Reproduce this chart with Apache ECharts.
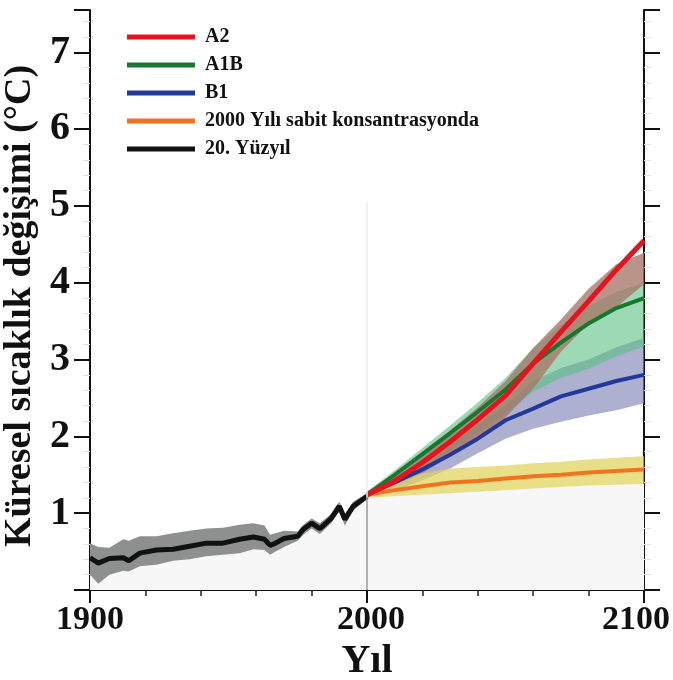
<!DOCTYPE html>
<html>
<head>
<meta charset="utf-8">
<script src="https://cdn.jsdelivr.net/npm/echarts@6/dist/echarts.min.js"></script>
<style>
html,body{margin:0;padding:0;background:#fff;}
#chart{width:673px;height:680px;}
</style>
</head>
<body>
<div id="chart"></div>
<script>
// ---- data ----
const histYears = [1900,1903,1907,1912,1914,1918,1924,1930,1936,1942,1948,1954,1959,1963,1965,1967,1970,1975,1977,1980,1983,1987,1990,1992,1995,2000];
const histMean  = [0.42,0.35,0.41,0.42,0.38,0.48,0.52,0.53,0.57,0.61,0.61,0.66,0.69,0.66,0.58,0.61,0.67,0.70,0.79,0.87,0.80,0.93,1.09,0.92,1.09,1.22];
const histLow   = [0.20,0.08,0.20,0.25,0.24,0.31,0.33,0.38,0.40,0.44,0.46,0.48,0.53,0.52,0.46,0.50,0.56,0.64,0.72,0.80,0.73,0.87,1.02,0.84,1.03,1.18];
const histHigh  = [0.61,0.56,0.55,0.66,0.64,0.70,0.70,0.74,0.77,0.80,0.81,0.85,0.87,0.84,0.72,0.74,0.77,0.76,0.85,0.93,0.87,0.99,1.15,0.99,1.15,1.26];

const projYears = [2000,2010,2020,2030,2040,2050,2060,2070,2080,2090,2100];
const a2Mean    = [1.24,1.42,1.66,1.93,2.22,2.53,2.95,3.36,3.76,4.17,4.55];
const a2Low     = [1.20,1.34,1.52,1.74,1.98,2.25,2.62,3.10,3.47,3.68,3.98];
const a2High    = [1.28,1.52,1.80,2.08,2.38,2.72,3.15,3.52,3.92,4.24,4.39];
const a1bMean   = [1.24,1.50,1.77,2.04,2.32,2.61,2.95,3.22,3.47,3.67,3.80];
const a1bLow    = [1.20,1.40,1.60,1.82,2.05,2.30,2.58,2.76,2.88,3.04,3.17];
const a1bHigh   = [1.28,1.56,1.85,2.14,2.44,2.76,3.15,3.45,3.70,3.88,4.00];
const b1Mean    = [1.24,1.40,1.57,1.76,1.97,2.21,2.36,2.52,2.62,2.72,2.80];
const b1Low     = [1.20,1.30,1.43,1.58,1.78,1.97,2.10,2.19,2.27,2.34,2.43];
const b1High    = [1.28,1.45,1.65,1.90,2.15,2.40,2.72,2.89,3.00,3.16,3.28];
const constMean = [1.24,1.30,1.35,1.40,1.42,1.45,1.48,1.50,1.53,1.55,1.57];
const constLow  = [1.20,1.22,1.24,1.26,1.28,1.30,1.32,1.34,1.36,1.37,1.38];
const constHigh = [1.28,1.42,1.52,1.58,1.60,1.62,1.65,1.67,1.70,1.72,1.74];

const xTickLabels = [1900, 2000, 2100];
const yTickLabels = [1, 2, 3, 4, 5, 6, 7];
const seriesNames = ['A2', 'A1B', 'B1', '2000 Yılı sabit konsantrasyonda', '20. Yüzyıl'];

// ---- helpers ----
function pairs(xs, ys) { return xs.map((x, i) => [x, ys[i]]); }
function triples(xs, lo, hi) { return xs.map((x, i) => [x, lo[i], hi[i]]); }
function bandRenderer(fill) {
  return function (params, api) {
    if (params.dataIndexInside !== 0) return null;
    const n = params.dataInsideLength;
    const lower = [], upper = [];
    for (let i = 0; i < n; i++) {
      lower.push(api.coord([api.value(0, i), api.value(1, i)]));
      upper.push(api.coord([api.value(0, i), api.value(2, i)]));
    }
    return { type: 'polygon', shape: { points: lower.concat(upper.reverse()) }, style: { fill: fill } };
  };
}
function band(name, data, fill) {
  return { type: 'custom', name: name, renderItem: bandRenderer(fill), data: data,
           encode: { x: 0, y: [1, 2] }, silent: true, xAxisIndex: 0, yAxisIndex: 0 };
}
const zeros = (arr) => arr.map(() => 0);

const serif = 'Liberation Serif';
const colors = { A2: '#e8121e', A1B: '#14792f', B1: '#22389a', C: '#f07420', H: '#111111' };
const xLabelStyle = { fontFamily: serif, fontWeight: 'bold', fontSize: 34, color: '#111' };

const option = {
  animation: false,
  backgroundColor: '#ffffff',
  grid: { left: 90, right: 29, top: 10, bottom: 90, containLabel: false, outerBoundsMode: 'none' },
  legend: {
    orient: 'vertical', left: 122, top: 22, itemWidth: 68, itemHeight: 5, itemGap: 8,
    icon: 'rect',
    textStyle: { fontFamily: serif, fontWeight: 'bold', fontSize: 20, lineHeight: 20, color: '#111', padding: [0, 0, 0, 5] },
    data: [
      { name: seriesNames[0], itemStyle: { color: colors.A2 } },
      { name: seriesNames[1], itemStyle: { color: colors.A1B } },
      { name: seriesNames[2], itemStyle: { color: colors.B1 } },
      { name: seriesNames[3], itemStyle: { color: colors.C } },
      { name: seriesNames[4], itemStyle: { color: colors.H } }
    ]
  },
  xAxis: [
    {
      type: 'value', min: 1900, max: 2100, interval: 100, position: 'bottom',
      axisLine: { lineStyle: { color: '#111', width: 2 } },
      axisTick: { length: 13, lineStyle: { color: '#111', width: 2 } },
      minorTick: { show: true, splitNumber: 5, length: 6, lineStyle: { color: '#222', width: 1.5 } },
      splitLine: { show: false }, minorSplitLine: { show: false },
      axisLabel: {
        margin: 13, fontFamily: serif, fontWeight: 'bold', fontSize: 34, color: '#111',
        formatter: v => {
          if (!xTickLabels.includes(v)) return '';
          if (v === xTickLabels[xTickLabels.length - 1]) return '{r|' + v + '}';
          if (v === xTickLabels[1]) return '{m|' + v + '}';
          return String(v);
        },
        rich: {
          r: Object.assign({ padding: [0, 16, 0, 0] }, xLabelStyle),
          m: Object.assign({ padding: [0, 0, 0, 8] }, xLabelStyle)
        }
      },
      name: 'Yıl', nameLocation: 'middle', nameGap: 46,
      nameTextStyle: { fontFamily: serif, fontWeight: 'bold', fontSize: 40, color: '#111' }
    },
    {
      type: 'value', min: 1900, max: 2100, interval: 20, position: 'top',
      axisLine: { lineStyle: { color: '#111', width: 2 } },
      axisTick: { length: 5, lineStyle: { color: '#222', width: 1.5 } },
      axisLabel: { show: false }, splitLine: { show: false }
    }
  ],
  yAxis: [
    {
      type: 'value', min: 0, max: 7.55, interval: 1, position: 'left',
      axisLine: { show: true, lineStyle: { color: '#111', width: 2 } },
      axisTick: { show: true, length: 16, lineStyle: { color: '#111', width: 2 } },
      minorTick: { show: true, splitNumber: 5, length: 7, lineStyle: { color: '#e2e2e2', width: 1 } },
      splitLine: { show: false }, minorSplitLine: { show: false },
      axisLabel: { margin: 20, fontFamily: serif, fontWeight: 'bold', fontSize: 40, color: '#111',
                   formatter: v => yTickLabels.includes(v) ? String(v) : '' },
      name: 'Küresel sıcaklık değişimi (°C)', nameLocation: 'middle', nameRotate: 90, nameGap: 49,
      nameTextStyle: { fontFamily: serif, fontWeight: 'bold', fontSize: 38, color: '#111', padding: [0, 12, 0, 0] }
    },
    {
      type: 'value', min: 0, max: 7.55, interval: 1, position: 'right',
      axisLine: { show: true, lineStyle: { color: '#111', width: 2 } },
      axisTick: { show: true, length: 16, lineStyle: { color: '#111', width: 2 } },
      minorTick: { show: true, splitNumber: 5, length: 7, lineStyle: { color: '#e2e2e2', width: 1 } },
      axisLabel: { show: false }, splitLine: { show: false }
    }
  ],
  series: [
    band('hist-under', triples(histYears, zeros(histYears), histLow), '#f7f7f7'),
    band('const-under', triples(projYears, zeros(projYears), constLow), '#f7f7f7'),
    band('hist-band', triples(histYears, histLow, histHigh), '#8e9090'),
    band('b1-band', triples(projYears, b1Low, b1High), 'rgba(128,131,180,0.64)'),
    band('a1b-band', triples(projYears, a1bLow, a1bHigh), 'rgba(90,192,132,0.6)'),
    band('a2-band', triples(projYears, a2Low, a2High), 'rgba(166,118,104,0.78)'),
    band('const-band', triples(projYears, constLow, constHigh), 'rgba(226,210,92,0.72)'),
    { type: 'line', name: seriesNames[3], data: pairs(projYears, constMean), symbol: 'none',
      lineStyle: { color: colors.C, width: 4 }, itemStyle: { color: colors.C } },
    { type: 'line', name: seriesNames[2], data: pairs(projYears, b1Mean), symbol: 'none',
      lineStyle: { color: colors.B1, width: 4 }, itemStyle: { color: colors.B1 } },
    { type: 'line', name: seriesNames[1], data: pairs(projYears, a1bMean), symbol: 'none',
      lineStyle: { color: colors.A1B, width: 4 }, itemStyle: { color: colors.A1B } },
    { type: 'line', name: seriesNames[0], data: pairs(projYears, a2Mean), symbol: 'none',
      lineStyle: { color: colors.A2, width: 5 }, itemStyle: { color: colors.A2 } },
    { type: 'line', name: seriesNames[4], data: pairs(histYears, histMean), symbol: 'none',
      lineStyle: { color: colors.H, width: 5 }, itemStyle: { color: colors.H }, z: 3,
      markLine: {
        silent: true, symbol: 'none', label: { show: false },
        data: [
          [{ coord: [2000, 0], lineStyle: { color: '#9a9a9a', width: 1.5, type: 'solid' } }, { coord: [2000, 1.2] }],
          [{ coord: [2000, 1.2], lineStyle: { color: '#ececec', width: 1.5, type: 'solid' } }, { coord: [2000, 5.05] }]
        ]
      } }
  ]
};

const chart = echarts.init(document.getElementById('chart'), null, { renderer: 'canvas' });
chart.setOption(option);
</script>
</body>
</html>
